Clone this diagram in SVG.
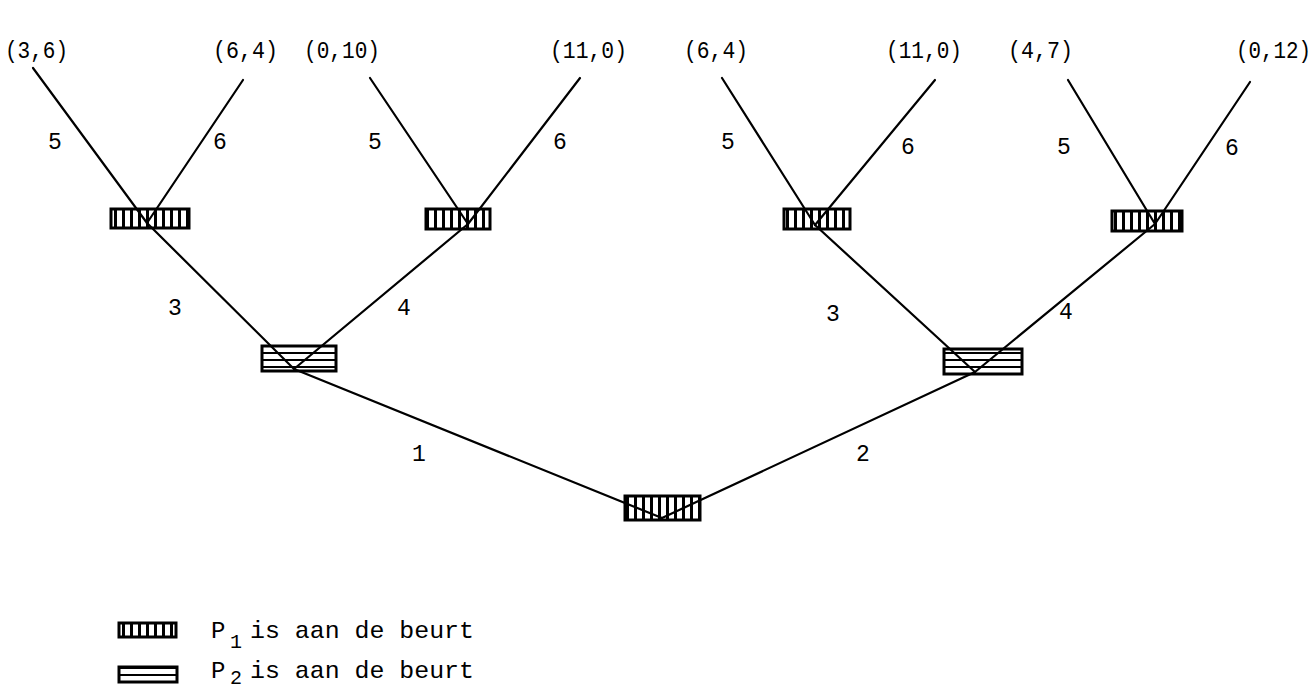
<svg xmlns="http://www.w3.org/2000/svg" width="1315" height="684" viewBox="0 0 1315 684">
  <style>
    .lbl { font-family: "Liberation Mono", "DejaVu Sans Mono", monospace; font-size: 24px; fill: #000; }
    .edge { font-family: "Liberation Mono", "DejaVu Sans Mono", monospace; font-size: 23px; fill: #000; }
    .leg { font-family: "Liberation Mono", "Courier New", monospace; font-size: 24px; fill: #000; }
    .sub { font-size: 20px; }
    .p1 { fill: url(#vhatch); stroke: #000; stroke-width: 3; }
    .p2 { fill: url(#hhatch); stroke: #000; stroke-width: 3; }
    .conn line { stroke: #000; stroke-width: 2.2; stroke-linecap: round; }
  </style>
  <defs>
    <!-- vertical stripes: player 1 to move -->
    <pattern id="vhatch" patternUnits="userSpaceOnUse" width="8" height="8">
      <rect width="8" height="8" fill="#fff"/>
      <rect x="2" y="0" width="3" height="8" fill="#000"/>
    </pattern>
    <!-- horizontal stripes: player 2 to move -->
    <pattern id="hhatch" patternUnits="userSpaceOnUse" width="8" height="7">
      <rect width="8" height="7" fill="#fff"/>
      <rect x="0" y="2" width="8" height="2" fill="#000"/>
    </pattern>
  </defs>
  <rect width="1315" height="684" fill="#fff"/>

  <!-- payoffs at the leaves -->
  <g id="payoffs">
    <text class="lbl" x="5" y="58" textLength="63" lengthAdjust="spacingAndGlyphs">(3,6)</text>
    <text class="lbl" x="213" y="58" textLength="65" lengthAdjust="spacingAndGlyphs">(6,4)</text>
    <text class="lbl" x="304" y="58" textLength="76" lengthAdjust="spacingAndGlyphs">(0,10)</text>
    <text class="lbl" x="550" y="58" textLength="77" lengthAdjust="spacingAndGlyphs">(11,0)</text>
    <text class="lbl" x="684" y="58" textLength="64" lengthAdjust="spacingAndGlyphs">(6,4)</text>
    <text class="lbl" x="886" y="58" textLength="76" lengthAdjust="spacingAndGlyphs">(11,0)</text>
    <text class="lbl" x="1008" y="58" textLength="65" lengthAdjust="spacingAndGlyphs">(4,7)</text>
    <text class="lbl" x="1236" y="58" textLength="75" lengthAdjust="spacingAndGlyphs">(0,12)</text>
  </g>

  <!-- decision nodes -->
  <g id="node-a"><rect class="p1" x="111" y="209" width="78" height="19"/></g>
  <g id="node-b"><rect class="p1" x="426" y="209" width="64" height="20"/></g>
  <g id="node-c"><rect class="p1" x="784" y="209" width="66" height="20"/></g>
  <g id="node-d"><rect class="p1" x="1112" y="211" width="70" height="20"/></g>
  <g id="node-e"><rect class="p2" x="262" y="346" width="74" height="25"/></g>
  <g id="node-f"><rect class="p2" x="944" y="349" width="78" height="25"/></g>
  <g id="node-root"><rect class="p1" x="625" y="496" width="75" height="24"/></g>

  <!-- connectors -->
  <g id="connectors" class="conn">
    <line x1="33" y1="68" x2="147" y2="223"/>
    <line x1="243" y1="80" x2="147" y2="223"/>
    <line x1="370" y1="78" x2="468" y2="224"/>
    <line x1="580" y1="78" x2="468" y2="224"/>
    <line x1="722" y1="78" x2="815" y2="225"/>
    <line x1="935" y1="80" x2="815" y2="225"/>
    <line x1="1068" y1="80" x2="1155" y2="224"/>
    <line x1="1250" y1="82" x2="1155" y2="224"/>
    <line x1="147" y1="223" x2="294" y2="369"/>
    <line x1="468" y1="224" x2="294" y2="369"/>
    <line x1="815" y1="225" x2="975" y2="372"/>
    <line x1="1155" y1="224" x2="975" y2="372"/>
    <line x1="294" y1="369" x2="662" y2="518"/>
    <line x1="975" y1="372" x2="662" y2="518"/>
  </g>

  <!-- move labels -->
  <g id="move-labels">
    <text class="edge" x="48" y="149">5</text>
    <text class="edge" x="213" y="149">6</text>
    <text class="edge" x="368" y="149">5</text>
    <text class="edge" x="553" y="149">6</text>
    <text class="edge" x="721" y="149">5</text>
    <text class="edge" x="901" y="154">6</text>
    <text class="edge" x="1057" y="154">5</text>
    <text class="edge" x="1225" y="155">6</text>
    <text class="edge" x="168" y="315">3</text>
    <text class="edge" x="397" y="315">4</text>
    <text class="edge" x="826" y="321">3</text>
    <text class="edge" x="1059" y="319">4</text>
    <text class="edge" x="412" y="461">1</text>
    <text class="edge" x="856" y="461">2</text>
  </g>

  <!-- legend -->
  <g id="legend">
    <rect class="p1" x="119" y="623" width="57" height="14"/>
    <text class="leg" x="211" y="638">P<tspan class="sub" x="230" y="648">1</tspan><tspan x="250" y="638" textLength="224" lengthAdjust="spacingAndGlyphs">is aan de beurt</tspan></text>
    <rect class="p2" x="119" y="667" width="58" height="15"/>
    <text class="leg" x="211" y="678">P<tspan class="sub" x="230" y="684">2</tspan><tspan x="250" y="678" textLength="224" lengthAdjust="spacingAndGlyphs">is aan de beurt</tspan></text>
  </g>
</svg>
